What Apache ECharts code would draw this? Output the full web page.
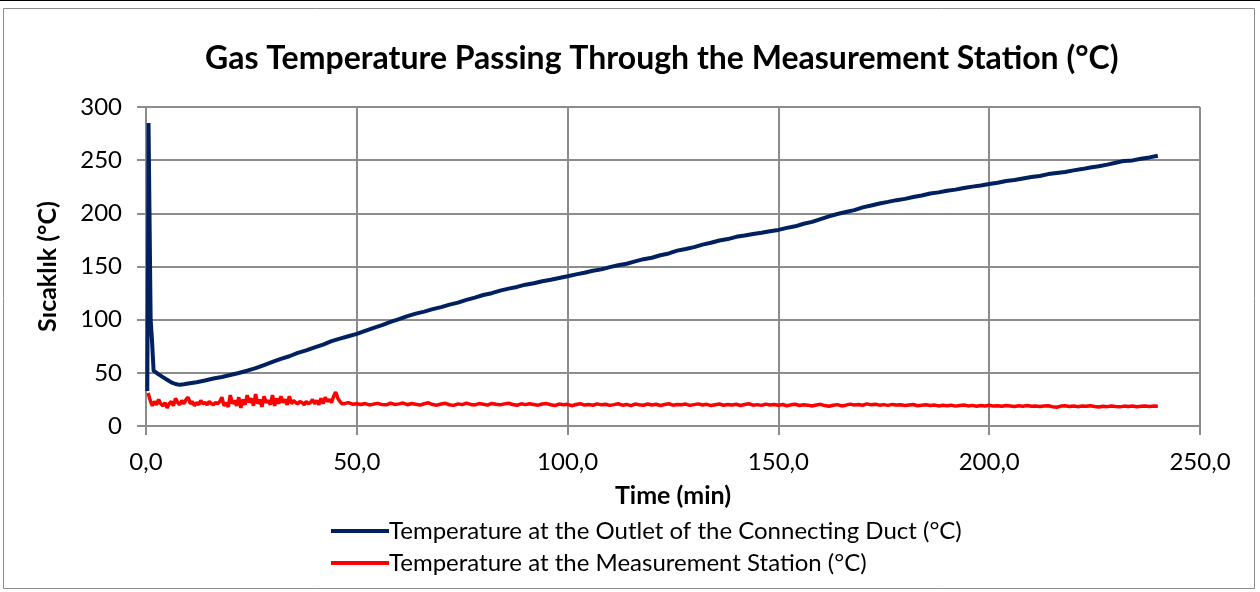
<!DOCTYPE html>
<html>
<head>
<meta charset="utf-8">
<script src="https://cdn.jsdelivr.net/npm/echarts@6/dist/echarts.min.js"></script>
<style>
html,body{margin:0;padding:0;background:#fff;}
#chart{width:1260px;height:592px;}
</style>
</head>
<body>
<div id="chart"></div>
<script>
// ---- data ----
const titleText = 'Gas Temperature Passing Through the Measurement Station (°C)';
const xAxisTitle = 'Time (min)';
const yAxisTitle = 'Sıcaklık (°C)';
const seriesNames = ['Temperature at the Outlet of the Connecting Duct (°C)', 'Temperature at the Measurement Station (°C)'];
const xTicks = [0, 50, 100, 150, 200, 250];
const yTicks = [0, 50, 100, 150, 200, 250, 300];

const ductTime = [0.3, 0.5, 0.6, 0.8, 1.1, 1.4, 1.8, 3, 4, 5, 6, 7, 8, 9,
  10, 12, 14, 16, 18, 20, 22, 24, 26, 28, 30, 32, 34, 36, 38, 40, 42, 44, 46, 48,
  50, 52, 54, 56, 58, 60, 62, 64, 66, 68, 70, 72, 74, 76, 78, 80, 82, 84, 86, 88,
  90, 92, 94, 96, 98, 100, 102, 104, 106, 108, 110, 112, 114, 116, 118, 120, 122, 124, 126, 128,
  130, 132, 134, 136, 138, 140, 142, 144, 146, 148, 150, 152, 154, 156, 158, 160, 162, 164, 166, 168,
  170, 172, 174, 176, 178, 180, 182, 184, 186, 188, 190, 192, 194, 196, 198, 200, 202, 204, 206, 208,
  210, 212, 214, 216, 218, 220, 222, 224, 226, 228, 230, 232, 234, 236, 238, 240];
const ductTemp = [33, 170, 285, 210, 100, 82, 52, 48.5, 46, 43.5, 41, 39.5, 38.7, 39.2,
  40.0, 41.2, 42.8, 44.6, 46.1, 47.9, 49.8, 52.0, 54.4, 57.3, 60.2, 63.1, 65.6, 68.7, 71.2, 74.0, 76.6, 79.8, 82.1, 84.4,
  86.6, 89.5, 92.3, 94.8, 97.9, 100.6, 103.4, 105.7, 107.6, 109.9, 111.8, 114.1, 116.0, 118.6, 120.7, 123.2, 124.9, 127.3, 129.2, 130.8,
  132.9, 134.3, 136.1, 137.6, 139.2, 140.8, 142.6, 144.1, 146.0, 147.3, 149.4, 151.2, 152.6, 154.8, 156.9, 158.2, 160.6, 162.3, 164.9, 166.5,
  168.2, 170.6, 172.3, 174.4, 175.8, 177.9, 179.2, 180.6, 181.8, 183.2, 184.4, 186.3, 187.8, 190.2, 192.0, 194.6, 197.1, 199.4, 201.2, 203.0,
  205.6, 207.4, 209.3, 210.8, 212.4, 213.6, 215.3, 216.8, 218.6, 219.7, 221.2, 222.3, 223.9, 225.1, 226.2, 227.6, 228.8, 230.4, 231.3, 232.8,
  234.2, 235.1, 236.9, 238.0, 238.9, 240.4, 241.6, 243.1, 244.2, 245.8, 247.6, 249.3, 249.8, 251.4, 252.6, 254.2];

const stationTime = [0.5, 1, 1.5, 2, 2.5, 3, 3.5, 4, 4.5, 5, 5.5, 6, 6.5, 7, 7.5, 8, 8.5, 9, 9.5, 10,
  10.5, 11, 11.5, 12, 12.5, 13, 13.5, 14, 14.5, 15, 15.5, 16, 16.5, 17, 17.5, 18, 18.5, 19, 19.5, 20,
  20.5, 21, 21.5, 22, 22.5, 23, 23.5, 24, 24.5, 25, 25.5, 26, 26.5, 27, 27.5, 28, 28.5, 29, 29.5, 30,
  30.5, 31, 31.5, 32, 32.5, 33, 33.5, 34, 34.5, 35, 35.5, 36, 36.5, 37, 37.5, 38, 38.5, 39, 39.5, 40,
  40.5, 41, 41.5, 42, 42.5, 43, 43.5, 44, 44.5, 45, 45.5, 46, 46.5, 47,
  48, 49, 50, 51, 52, 53, 54, 55, 56, 57, 58, 59, 60,
  61, 62, 63, 64, 65, 66, 67, 68, 69, 70, 71, 72, 73, 74, 75, 76, 77, 78, 79, 80,
  81, 82, 83, 84, 85, 86, 87, 88, 89, 90, 91, 92, 93, 94, 95, 96, 97, 98, 99, 100,
  101, 102, 103, 104, 105, 106, 107, 108, 109, 110, 111, 112, 113, 114, 115, 116, 117, 118, 119, 120,
  121, 122, 123, 124, 125, 126, 127, 128, 129, 130, 131, 132, 133, 134, 135, 136, 137, 138, 139, 140,
  141, 142, 143, 144, 145, 146, 147, 148, 149, 150, 151, 152, 153, 154, 155, 156, 157, 158, 159, 160,
  161, 162, 163, 164, 165, 166, 167, 168, 169, 170, 171, 172, 173, 174, 175, 176, 177, 178, 179, 180,
  181, 182, 183, 184, 185, 186, 187, 188, 189, 190, 191, 192, 193, 194, 195, 196, 197, 198, 199, 200,
  201, 202, 203, 204, 205, 206, 207, 208, 209, 210, 211, 212, 213, 214, 215, 216, 217, 218, 219, 220,
  221, 222, 223, 224, 225, 226, 227, 228, 229, 230, 231, 232, 233, 234, 235, 236, 237, 238, 239, 240];
const stationTemp = [31, 24, 19, 23, 20, 25, 21, 19, 22, 17, 21, 23, 19, 26, 22, 20, 24, 21, 25, 27,
  21, 23, 19, 22, 20, 24, 21, 22, 20, 23, 21, 20, 22, 21, 23, 27, 19, 22, 18, 29,
  21, 24, 19, 27, 17, 25, 20, 29, 22, 26, 19, 30, 21, 25, 18, 28, 22, 24, 20, 29,
  19, 26, 21, 28, 22, 25, 20, 28, 21, 24, 22, 21, 23, 22, 20, 23, 21, 22, 25, 21,
  24, 20, 26, 21, 27, 23, 25, 22, 28, 32, 26, 23, 21, 21,
  22, 20.5, 21, 20.2, 21.1, 19.8, 20.6, 21.3, 20.1, 19.9, 21.4, 20.3, 20.8,
  21.6, 20.0, 21.2, 20.4, 19.7, 20.9, 21.8, 20.2, 19.6, 20.7, 21.3, 20.0, 19.4, 20.8, 20.1, 21.5, 20.3, 19.8, 21.1, 20.5,
  19.6, 21.2, 20.4, 19.9, 20.8, 21.4, 20.2, 19.5, 20.9, 20.1, 21.0, 20.3, 19.6, 20.7, 21.1, 20.0, 19.3, 20.6, 19.9, 20.4,
  19.1, 20.2, 21.0, 19.7, 20.3, 19.5, 20.8, 19.9, 20.5, 19.4, 20.1, 20.9, 19.6, 20.3, 19.2, 20.6, 20.0, 19.5, 20.7, 19.8,
  20.4, 19.3, 20.2, 20.9, 19.6, 20.3, 19.9, 20.6, 19.4, 20.1, 20.8, 19.7, 20.4, 19.2, 20.0, 20.7, 19.5, 20.3, 19.8, 20.5,
  19.3, 20.2, 20.9, 19.6, 20.1, 19.4, 20.6, 19.8, 20.3, 19.5, 20.2, 19.0, 19.9, 20.5, 19.3, 20.0, 19.6, 18.8, 19.7, 20.4,
  19.2, 18.6, 19.5, 20.1, 18.9, 19.6, 20.6, 19.8, 20.3, 19.5, 20.8, 19.9, 20.4, 19.6, 20.1, 19.4, 20.3, 19.7, 20.0, 19.3,
  19.8, 20.2, 19.1, 19.6, 19.9, 19.2, 19.7, 18.9, 19.5, 19.0, 19.6, 18.7, 19.3, 19.8, 18.9, 19.4, 18.6, 19.2, 18.8, 19.5,
  18.7, 19.1, 18.5, 19.3, 18.9, 18.4, 19.0, 18.6, 19.2, 18.5, 18.9, 18.3, 18.8, 19.1, 18.2, 17.6, 18.7, 19.0, 18.4, 18.9,
  18.2, 18.8, 18.5, 19.0, 18.3, 17.8, 18.6, 18.2, 18.9, 18.4, 18.0, 18.7, 18.3, 18.8, 18.2, 18.6, 18.9, 18.4, 18.7, 18.5];

const FONT = 'Lato';
const chart = echarts.init(document.getElementById('chart'));
const option = {
  backgroundColor: '#fff',
  animation: false,
  title: {
    text: titleText,
    left: 200,
    top: 38,
    textStyle: {fontFamily: FONT, fontSize: 32, fontWeight: 'bold', color: '#000'}
  },
  legend: {
    orient: 'vertical',
    left: 326,
    top: 514,
    itemWidth: 58,
    itemHeight: 4,
    itemGap: 8,
    icon: 'rect',
    textStyle: {fontFamily: FONT, fontSize: 24, color: '#000', padding: [0, 0, 0, -5]},
    data: seriesNames
  },
  grid: {left: 146, right: 60, top: 107, bottom: 166},
  xAxis: {
    type: 'value', min: xTicks[0], max: xTicks[xTicks.length - 1], interval: 50,
    name: xAxisTitle, nameLocation: 'middle', nameGap: 57,
    nameTextStyle: {fontFamily: FONT, fontSize: 25, fontWeight: 'bold', color: '#000'},
    axisLine: {show: true, lineStyle: {color: '#8c8c8c', width: 2}},
    axisTick: {show: true, length: 9, lineStyle: {color: '#8c8c8c', width: 2}},
    axisLabel: {fontFamily: FONT, fontSize: 24, color: '#000', margin: 24,
      formatter: v => v.toFixed(1).replace('.', ',')},
    splitLine: {show: true, lineStyle: {color: '#8c8c8c', width: 2}}
  },
  yAxis: {
    type: 'value', min: yTicks[0], max: yTicks[yTicks.length - 1], interval: 50,
    name: yAxisTitle, nameLocation: 'middle', nameGap: 86, nameRotate: 90,
    nameTextStyle: {fontFamily: FONT, fontSize: 25, fontWeight: 'bold', color: '#000'},
    axisLine: {show: true, lineStyle: {color: '#8c8c8c', width: 2}},
    axisTick: {show: true, length: 9, lineStyle: {color: '#8c8c8c', width: 2}},
    axisLabel: {fontFamily: FONT, fontSize: 24, color: '#000', margin: 24},
    splitLine: {show: true, lineStyle: {color: '#8c8c8c', width: 2}}
  },
  graphic: [
    {type: 'rect', shape: {x: 3.5, y: 8.5, width: 1251, height: 580}, style: {fill: 'none', stroke: '#8c8c8c', lineWidth: 1}, z: -1},
    {type: 'line', shape: {x1: 0, y1: 0.5, x2: 1260, y2: 0.5}, style: {stroke: '#000', lineWidth: 1}}
  ],
  series: [
    {
      name: seriesNames[0], type: 'line', showSymbol: false, symbol: 'none',
      lineStyle: {color: '#002060', width: 4}, itemStyle: {color: '#002060'},
      data: ductTime.map((t, i) => [t, ductTemp[i]]), z: 3
    },
    {
      name: seriesNames[1], type: 'line', showSymbol: false, symbol: 'none',
      lineStyle: {color: '#ff0000', width: 3.5}, itemStyle: {color: '#ff0000'},
      data: stationTime.map((t, i) => [t, stationTemp[i]]), z: 4
    }
  ]
};
chart.setOption(option);
</script>
</body>
</html>
